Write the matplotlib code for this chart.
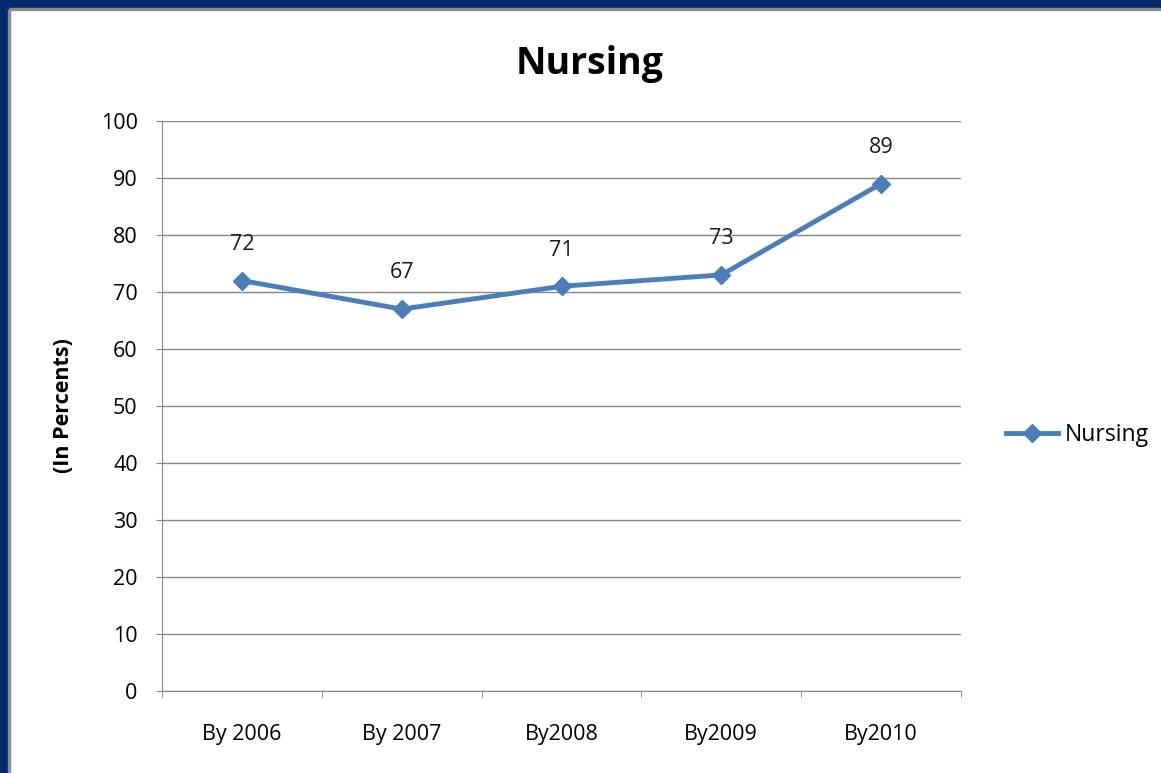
import matplotlib.pyplot as plt
from matplotlib.patches import Rectangle

categories = ["By 2006", "By 2007", "By2008", "By2009", "By2010"]
nursing = [72, 67, 71, 73, 89]
yticks = [0, 10, 20, 30, 40, 50, 60, 70, 80, 90, 100]

W, H = 1161, 773
fig = plt.figure(figsize=(W / 100, H / 100), dpi=100)
plt.rcParams["font.family"] = ["Open Sans", "DejaVu Sans"]

# frame around the slide
navy = "#052a6b"
fig.patches.append(Rectangle((0, 1 - 8 / H), 1, 8 / H, transform=fig.transFigure, color=navy, zorder=0))
fig.patches.append(Rectangle((0, 1 - 10 / H), 1, 2 / H, transform=fig.transFigure, color="#8c8c8c", zorder=0))
fig.patches.append(Rectangle((0, 0), 8 / W, 1, transform=fig.transFigure, color=navy, zorder=0))
fig.patches.append(Rectangle((8 / W, 0), 2 / W, 1 - 10 / H, transform=fig.transFigure, color="#8c8c8c", zorder=0))

ax = fig.add_axes([162 / W, 1 - 691 / H, (961 - 162) / W, (691 - 121) / H])
x = list(range(len(categories)))
line, = ax.plot(x, nursing, color="#4a7ebb", lw=3.5, marker="D", markersize=9, label="Nursing")
for xi, v in zip(x, nursing):
    ax.annotate(str(v), (xi, v), xytext=(0, 26), textcoords="offset points",
                ha="center", va="center", fontsize=15.5, color="#1a1a1a")

ax.set_xlim(-0.5, len(categories) - 0.5)
ax.set_ylim(0, 100)
ax.set_yticks(yticks)
ax.set_xticks(x)
ax.set_xticklabels(categories)
ax.set_xticks([i - 0.5 for i in range(len(categories) + 1)], minor=True)
ax.tick_params(axis="x", which="major", length=0, pad=24, labelsize=15.5)
ax.tick_params(axis="x", which="minor", length=4.5, color="#868686", direction="out")
ax.tick_params(axis="y", length=4.5, color="#868686", direction="out", labelsize=15.5, pad=13)
ax.grid(axis="y", color="#868686", lw=1)
ax.set_axisbelow(True)
for s in ["top", "right"]:
    ax.spines[s].set_visible(False)
for s in ["left", "bottom"]:
    ax.spines[s].set_color("#868686")

ax.set_ylabel("(In Percents)", fontsize=15.5, fontweight="bold", labelpad=19)
fig.text(590 / W, 1 - 64 / H, "Nursing", ha="center", va="center", fontsize=27, fontweight="bold")

ax.legend(loc="center left", bbox_to_anchor=(1.03, 0.449), frameon=False, fontsize=16.5,
          handlelength=2.3, handletextpad=0.3)

fig.savefig("out.png", dpi=100)
